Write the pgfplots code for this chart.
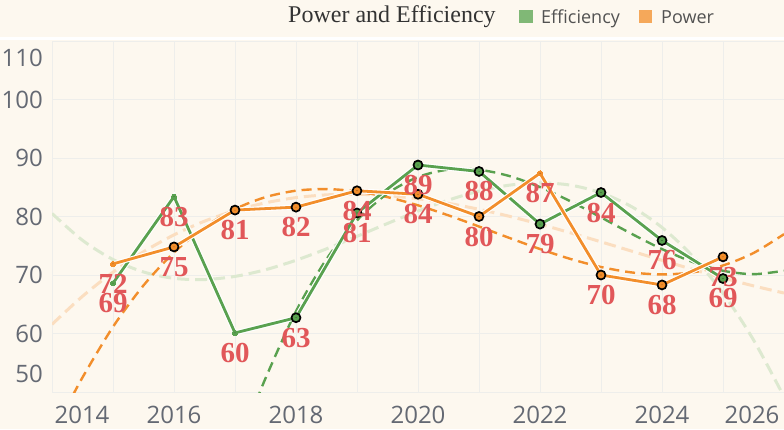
\documentclass[border=0pt]{standalone}
\usepackage{pgfplots}
\pgfplotsset{compat=1.18}
\usepackage{pgfplotstable}
\usepackage{fontspec}
\setmainfont{Liberation Serif}
\newfontfamily\sansf{Open Sans}
\definecolor{bg}{RGB}{253,248,239}
\definecolor{gridc}{RGB}{238,238,235}
\definecolor{effc}{RGB}{89,161,79}
\definecolor{powc}{RGB}{242,142,43}
\definecolor{efflight}{RGB}{221,233,208}
\definecolor{powlight}{RGB}{251,222,192}
\definecolor{labc}{RGB}{225,87,89}
\definecolor{tickc}{RGB}{100,105,115}
\definecolor{legeff}{RGB}{128,184,118}
\definecolor{legpow}{RGB}{245,168,90}

\pgfplotstableread{
x y m
2015 68.6 69
2016 83.4 83
2017 60.1 60
2018 62.7 63
2019 80.6 81
2020 88.8 89
2021 87.7 88
2022 78.7 79
2023 84.1 84
2024 75.9 76
2025 69.4 69
}\effdata
\pgfplotstableread{
x y m
2015 71.9 72
2016 74.8 75
2017 81.1 81
2018 81.6 82
2019 84.4 84
2020 83.8 84
2021 80.0 80
2022 87.4 87
2023 70.0 70
2024 68.3 68
2025 73.1 73
}\powdata
\pgfplotstableread{
x y
2018 62.7
2019 80.6
2020 88.8
2021 87.7
2022 78.7
2023 84.1
2024 75.9
2025 69.4
}\effcirc
\pgfplotstableread{
x y
2016 74.8
2017 81.1
2018 81.6
2019 84.4
2020 83.8
2021 80.0
2023 70.0
2024 68.3
2025 73.1
}\powcirc

\begin{document}
\begin{tikzpicture}[x=1pt,y=1pt]
\path[use as bounding box, fill=bg] (0,0) rectangle (784,429);
\draw[white, line width=2.5pt] (0,390.5) -- (784,390.5);
\node[anchor=base west, inner sep=0pt, font=\fontsize{24}{24}\selectfont, text=black!80] at (288,406) {Power and Efficiency};
\fill[legeff] (519,406) rectangle (533,419);
\node[anchor=base west, inner sep=0pt, font=\sansf\fontsize{18}{18}\selectfont, text=black!68] at (541,405) {Efficiency};
\fill[legpow] (639,406) rectangle (652,419);
\node[anchor=base west, inner sep=0pt, font=\sansf\fontsize{18}{18}\selectfont, text=black!68] at (661,405) {Power};
% edge tick labels
\node[anchor=base, inner sep=0pt, font=\sansf\fontsize{24}{24}\selectfont, text=tickc] at (82,6) {2014};
\node[anchor=base, inner sep=0pt, font=\sansf\fontsize{24}{24}\selectfont, text=tickc] at (752,6) {2026};
\node[anchor=east, inner sep=0pt, font=\sansf\fontsize{24}{24}\selectfont, text=tickc] at (43,371) {110};
\node[anchor=east, inner sep=0pt, font=\sansf\fontsize{24}{24}\selectfont, text=tickc] at (43,55) {50};
\begin{axis}[
  at={(52pt,37pt)}, anchor=south west,
  width=732pt, height=351pt, scale only axis,
  xmin=2014, xmax=2026, ymin=50, ymax=110,
  axis line style={draw=none},
  xtick={2016,2018,2020,2022,2024},
  xticklabels={2016,2018,2020,2022,2024},
  minor xtick={2014,2015,2017,2019,2021,2023,2025,2026},
  ytick={60,70,80,90,100},
  minor ytick={50,110},
  grid=both,
  major grid style={gridc, line width=1pt},
  minor grid style={gridc, line width=1pt},
  major tick length=0pt, minor tick length=0pt,
  /pgf/number format/assume math mode=true,
  tick label style={font=\sansf\fontsize{24}{24}\selectfont, text=tickc, inner sep=0pt},
  xticklabel style={anchor=base, yshift=-31pt},
  yticklabel style={anchor=east, xshift=-9pt},
  clip=true,
]
% light cubic trends
\addplot[powlight, line width=3pt, dash pattern=on 12pt off 6pt, smooth] coordinates {
(2014,61.56)(2014.5,66.36)(2015,70.48)(2015.5,73.97)(2016,76.86)(2016.5,79.20)(2017,81.01)(2017.5,82.34)(2018,83.23)(2018.5,83.70)(2019,83.80)(2019.5,83.57)(2020,83.04)(2020.5,82.25)(2021,81.23)(2021.5,80.03)(2022,78.68)(2022.5,77.21)(2023,75.67)(2023.5,74.09)(2024,72.51)(2024.5,70.97)(2025,69.50)(2025.5,68.14)(2026,66.92)};
\addplot[efflight, line width=3pt, dash pattern=on 12pt off 6pt, smooth] coordinates {
(2014,80.52)(2014.5,75.93)(2015,72.65)(2015.5,70.52)(2016,69.43)(2016.5,69.22)(2017,69.76)(2017.5,70.90)(2018,72.52)(2018.5,74.47)(2019,76.61)(2019.5,78.81)(2020,80.92)(2020.5,82.81)(2021,84.34)(2021.5,85.36)(2022,85.75)(2022.5,85.36)(2023,84.05)(2023.5,81.69)(2024,78.13)(2024.5,73.24)(2025,66.88)(2025.5,58.90)(2026,49.18)};
% dark trends
\addplot[powc, line width=2.4pt, dash pattern=on 10pt off 6pt, smooth] coordinates {
(2014,42.13)(2014.25,47.53)(2014.5,52.49)(2015,61.14)(2015.5,68.22)(2016,73.85)(2016.5,78.16)(2017,81.27)(2017.5,83.31)(2018,84.41)(2018.5,84.69)(2019,84.28)(2019.5,83.31)(2020,81.91)(2020.5,80.19)(2021,78.29)(2021.5,76.33)(2022,74.44)(2022.5,72.74)(2023,71.37)(2023.5,70.44)(2024,70.10)(2024.5,70.45)(2025,71.63)(2025.5,73.76)(2026,76.98)};
\addplot[effc, line width=2.4pt, dash pattern=on 10pt off 6pt, smooth] coordinates {
(2017,38.12)(2017.25,45.60)(2017.5,52.34)(2018,63.79)(2018.5,72.71)(2019,79.34)(2019.5,83.94)(2020,86.75)(2020.5,88.02)(2021,87.99)(2021.5,86.91)(2022,85.03)(2022.5,82.60)(2023,79.85)(2023.5,77.05)(2024,74.43)(2024.5,72.24)(2025,70.73)(2025.5,70.14)(2026,70.73)};
% main lines
\addplot[white, line width=5pt, mark=none] table[x=x,y=y] {\effdata};
\addplot[effc, line width=2.8pt, mark=*, mark size=2.6pt, mark options={fill=effc, draw=effc, line width=0pt}] table[x=x,y=y] {\effdata};
\addplot[white, line width=5pt, mark=none] table[x=x,y=y] {\powdata};
\addplot[powc, line width=2.8pt, mark=*, mark size=2.6pt, mark options={fill=powc, draw=powc, line width=0pt}] table[x=x,y=y] {\powdata};
% circled markers
\addplot[only marks, mark=*, mark size=4.5pt, mark options={fill=effc, draw=black, line width=1.7pt}] table[x=x,y=y] {\effcirc};
\addplot[only marks, mark=*, mark size=4.5pt, mark options={fill=powc, draw=black, line width=1.7pt}] table[x=x,y=y] {\powcirc};
% labels
\addplot[only marks, mark=*, mark size=0.01pt, mark options={draw=none, fill=none},
  point meta=explicit, nodes near coords,
  every node near coord/.append style={anchor=center, yshift=-20pt, font=\bfseries\fontsize{29}{29}\selectfont, text=labc, inner sep=0pt}]
  table[x=x,y=y,meta=m] {\effdata};
\addplot[only marks, mark=*, mark size=0.01pt, mark options={draw=none, fill=none},
  point meta=explicit, nodes near coords,
  every node near coord/.append style={anchor=center, yshift=-20pt, font=\bfseries\fontsize{29}{29}\selectfont, text=labc, inner sep=0pt}]
  table[x=x,y=y,meta=m] {\powdata};
\end{axis}
\end{tikzpicture}
\end{document}
